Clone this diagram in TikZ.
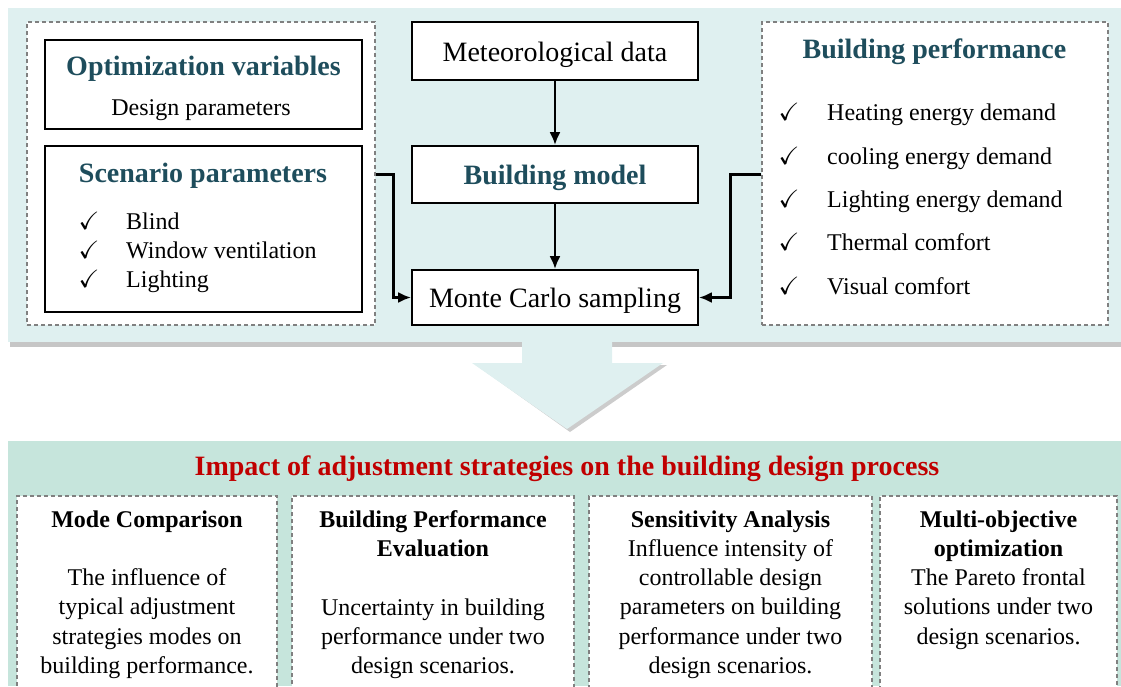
\documentclass[tikz,border=0pt]{standalone}
\usepackage{amsmath,amssymb}
\usepackage{fontspec}
\setmainfont{Liberation Serif}
\usepackage{tikz}
\usetikzlibrary{arrows.meta}
\usepackage{xcolor}

\definecolor{panelA}{HTML}{DFF0F0}
\definecolor{panelB}{HTML}{C6E5DC}
\definecolor{headteal}{HTML}{1E4D5C}
\definecolor{titlered}{HTML}{C00000}

\newcommand{\sizeL}{\fontsize{28}{32}\selectfont}
\newcommand{\sizeM}{\fontsize{24}{29.2}\selectfont}

\begin{document}
\begin{tikzpicture}[x=1pt,y=-1pt,>={Latex[length=13pt,width=11pt]}]
\tikzset{
    solidbox/.style={%
        draw=black, line width=1.8pt,
        fill=white,
        rectangle,
        inner sep=0pt
        },
    dashbox/.style={%
        draw=gray, line width=1.1pt,
        dash pattern=on 4pt off 3pt,
        fill=white,
        rectangle,
        inner sep=0pt
        },
    headtext/.style={font=\sizeL\bfseries, text=headteal, anchor=base, inner sep=0pt},
    listtext/.style={font=\sizeM, anchor=base west, inner sep=0pt},
    chkmark/.style={font=\fontsize{25}{25}\selectfont, anchor=base, inner sep=0pt},
    bodytext/.style={font=\sizeM, align=center, anchor=north, inner sep=0pt},
    link/.style={->, line width=2.4pt},
}
\useasboundingbox (0,0) rectangle (1121,686);
%%%PANELS
\fill[gray!45] (10,12) rectangle (1121,347);
\fill[panelA] (8,8) rectangle (1121,342);
\fill[panelB] (8,441) rectangle (1121,686);
%%%BIG ARROW
\fill[gray!40] (476,365) -- (667,365) -- (570,432) -- cycle;
\fill[panelA] (522,340) -- (612,340) -- (612,363) -- (663,363) -- (567,429)
    -- (472,363) -- (522,363) -- cycle;
%%%INPUTS
\node[dashbox, minimum width=348, minimum height=303] (paramsbox) at (201,173.5) {};
\node[solidbox, minimum width=317, minimum height=89] (optbox) at (203.5,84.5) {};
\node[solidbox, minimum width=317, minimum height=166] (scenbox) at (203.5,229) {};
\node[headtext] (optT) at (203.5,75) {Optimization variables};
\node[font=\sizeM, anchor=base, inner sep=0pt] (optS) at (201,115) {Design parameters};
\node[headtext] (scenT) at (203,182) {Scenario parameters};
\node[chkmark] (c1) at (89,229) {$\checkmark$};
\node[chkmark] (c2) at (89,258) {$\checkmark$};
\node[chkmark] (c3) at (89,287) {$\checkmark$};
\node[listtext] (blind) at (126,229) {Blind};
\node[listtext] (window) at (126,258) {Window ventilation};
\node[listtext] (light) at (126,287) {Lighting};
%%%SIMULATION
\node[solidbox, minimum width=286, minimum height=58, font=\sizeL,
    text height=20pt, text depth=0pt] (metbox) at (555,51) {Meteorological data};
\node[solidbox, minimum width=286, minimum height=57, font=\sizeL\bfseries,
    text=headteal, text height=20pt, text depth=0pt] (modelbox) at (555,174.5) {Building model};
\node[solidbox, minimum width=286, minimum height=55, font=\sizeL,
    text height=20pt, text depth=0pt] (mcbox) at (555,297.5) {Monte Carlo sampling};
%%%OUTPUTS
\node[dashbox, minimum width=346, minimum height=303] (perfbox) at (935,173.5) {};
\node[headtext] (perfT) at (934.5,58) {Building performance};
\node[chkmark] (c4) at (789,120) {$\checkmark$};
\node[chkmark] (c5) at (789,164) {$\checkmark$};
\node[chkmark] (c6) at (789,207) {$\checkmark$};
\node[chkmark] (c7) at (789,250) {$\checkmark$};
\node[chkmark] (c8) at (789,294) {$\checkmark$};
\node[listtext] (heat) at (827,120) {Heating energy demand};
\node[listtext] (cool) at (827,164) {cooling energy demand};
\node[listtext] (lightE) at (827,207) {Lighting energy demand};
\node[listtext] (thermal) at (827,250) {Thermal comfort};
\node[listtext] (visual) at (827,294) {Visual comfort};
%%%LINKS
\draw[link] (metbox) -- (modelbox);
\draw[link] (modelbox) -- (mcbox);
\draw[link] (paramsbox.east |- modelbox) -- ++(18,0) |- (mcbox.west);
\draw[link] (perfbox.west |- modelbox) -- ++(-31,0) |- (mcbox.east);
%%%IMPACT
\node[font=\sizeL\bfseries, text=titlered, anchor=base, inner sep=0pt] (title) at (567,475)
    {Impact of adjustment strategies on the building design process};
\node[dashbox, minimum width=260, minimum height=204] (modebox) at (147,598) {};
\node[dashbox, minimum width=282, minimum height=204] (evalbox) at (433,598) {};
\node[dashbox, minimum width=283, minimum height=204] (sensbox) at (730.5,598) {};
\node[dashbox, minimum width=237, minimum height=204] (multibox) at (998.5,598) {};
\node[bodytext] (modeT) at (147,510.5) {\textbf{Mode Comparison}\\ \\
    The influence of\\ typical adjustment\\ strategies modes on\\ building performance.};
\node[bodytext] (evalT) at (433,510.5) {\textbf{Building Performance}\\ \textbf{Evaluation}\\ \\
    Uncertainty in building\\ performance under two\\ design scenarios.};
\node[bodytext] (sensT) at (730.5,510.5) {\textbf{Sensitivity Analysis}\\
    Influence intensity of\\ controllable design\\ parameters on building\\
    performance under two\\ design scenarios.};
\node[bodytext] (multiT) at (998.5,510.5) {\textbf{Multi-objective}\\ \textbf{optimization}\\
    The Pareto frontal\\ solutions under two\\ design scenarios.};
\end{tikzpicture}
\end{document}
